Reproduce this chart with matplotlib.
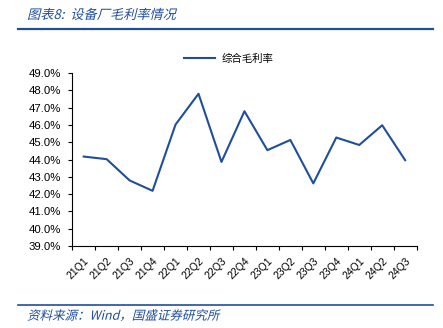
import matplotlib
matplotlib.use("Agg")
import matplotlib.pyplot as plt
import numpy as np
from matplotlib.ticker import FuncFormatter, FixedLocator
from matplotlib.patheffects import AbstractPathEffect
from matplotlib.transforms import Affine2D

plt.rcParams['font.family'] = ['Noto Sans CJK SC', 'DejaVu Sans']


class Oblique(AbstractPathEffect):
    """fake italic for fonts without an italic face"""
    def __init__(self, angle=14):
        super().__init__()
        self._skew = Affine2D().skew_deg(angle, 0)

    def draw_path(self, renderer, gc, tpath, affine, rgbFace=None):
        renderer.draw_path(gc, tpath, self._skew + affine, rgbFace)


# 季度毛利率 (%)
quarters = ['21Q1', '21Q2', '21Q3', '21Q4', '22Q1', '22Q2', '22Q3', '22Q4',
            '23Q1', '23Q2', '23Q3', '23Q4', '24Q1', '24Q2', '24Q3']
gross_margin = [44.17, 44.02, 42.79, 42.19, 46.02, 47.80, 43.86, 46.79,
                44.54, 45.13, 42.62, 45.27, 44.84, 45.98, 43.96]

blue = '#1F4E9C'
num_font = ['Liberation Sans', 'DejaVu Sans']

fig = plt.figure(figsize=(4.43, 3.28), dpi=100)
ax = fig.add_axes([0.163, 0.25, 0.7775, 0.5274])

x = np.arange(len(quarters))
ax.plot(x, gross_margin, color=blue, lw=1.5, label='综合毛利率')

ax.set_xlim(-0.5, len(quarters) - 0.5)
ax.set_ylim(39, 49)
ax.set_yticks(np.arange(39, 49.1, 1))
ax.yaxis.set_major_formatter(FuncFormatter(lambda v, p: f'{v:.1f}%'))

ax.set_xticks(x)
ax.set_xticklabels(quarters, rotation=45, ha='right', rotation_mode='anchor')
ax.xaxis.set_minor_locator(FixedLocator(np.arange(-0.5, len(quarters), 1)))
ax.tick_params(axis='x', which='major', length=0, labelsize=7.5, pad=7)
ax.tick_params(axis='x', which='minor', length=3, width=0.8)
ax.tick_params(axis='y', length=3, width=0.8, labelsize=8.2, pad=5)
for lab in ax.get_xticklabels() + ax.get_yticklabels():
    lab.set_fontfamily(num_font)

for s in ['top', 'right']:
    ax.spines[s].set_visible(False)
for s in ['left', 'bottom']:
    ax.spines[s].set_linewidth(0.8)

ax.legend(loc='lower center', bbox_to_anchor=(0.455, 1.0), frameon=False,
          fontsize=7.5, handlelength=3.0, handletextpad=0.6)

# 标题与来源
fig.text(0.061, 0.953, '图表8:  设备厂毛利率情况', color=blue, fontsize=9.5,
         ha='left', va='center', path_effects=[Oblique()])
fig.add_artist(plt.Line2D([0.041, 0.977], [0.911, 0.911], color=blue, lw=1.6))
fig.add_artist(plt.Line2D([0.041, 0.977], [0.071, 0.071], color=blue, lw=1.2))
fig.text(0.061, 0.036, '资料来源：Wind，国盛证券研究所', color=blue, fontsize=9,
         ha='left', va='center', path_effects=[Oblique()])

fig.savefig('out.png', dpi=100)
